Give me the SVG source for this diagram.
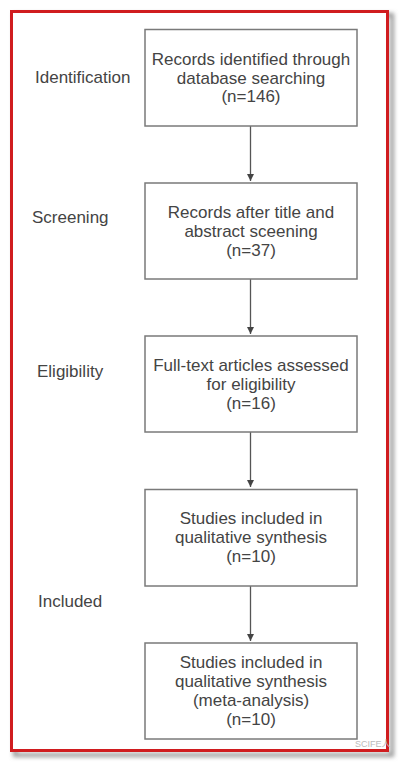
<svg xmlns="http://www.w3.org/2000/svg" width="402" height="763" viewBox="0 0 402 763">
<style>
.box{fill:#fff;stroke:#7a7a7a;stroke-width:1.5}
.t{font-family:"Liberation Sans",Arial,sans-serif;font-size:17px;fill:#444;text-anchor:middle}
.lab{font-family:"Liberation Sans",Arial,sans-serif;font-size:17px;fill:#444}
.arr{stroke:#555;stroke-width:1.3;fill:none;marker-end:url(#ah)}
</style>
<defs>
<marker id="ah" markerWidth="8" markerHeight="10" refX="7" refY="4" orient="auto" markerUnits="userSpaceOnUse">
<path d="M0,0.5 L7,4 L0,7.5 Z" fill="#444"/>
</marker>
<filter id="sh" x="-5%" y="-5%" width="115%" height="115%">
<feGaussianBlur stdDeviation="2"/>
</filter>
</defs>
<rect width="402" height="763" fill="#fff"/>
<g id="frame">
<rect x="15" y="15" width="377" height="740" fill="none" stroke="#999" stroke-width="4" filter="url(#sh)"/>
<rect x="11.5" y="11.5" width="376" height="739" fill="#fff" stroke="#d01c1f" stroke-width="3"/>
</g>
<g id="labels">
<text class="lab" x="35" y="83">Identification</text>
<text class="lab" x="32" y="223">Screening</text>
<text class="lab" x="37" y="377">Eligibility</text>
<text class="lab" x="38" y="607">Included</text>
</g>
<g id="connectors">
<line class="arr" x1="250.5" y1="126" x2="250.5" y2="181"/>
<line class="arr" x1="250.5" y1="279" x2="250.5" y2="334"/>
<line class="arr" x1="250.5" y1="432" x2="250.5" y2="487"/>
<line class="arr" x1="250.5" y1="586" x2="250.5" y2="641"/>
</g>
<g id="n1">
<rect class="box" x="145" y="29.5" width="212" height="96.5"/>
<text class="t" x="251" y="65">Records identified through</text>
<text class="t" x="251" y="83.5">database searching</text>
<text class="t" x="251" y="102">(n=146)</text>
</g>
<g id="n2">
<rect class="box" x="145" y="183" width="212" height="96"/>
<text class="t" x="251" y="218">Records after title and</text>
<text class="t" x="251" y="237">abstract sceening</text>
<text class="t" x="251" y="256">(n=37)</text>
</g>
<g id="n3">
<rect class="box" x="145" y="336" width="212" height="96"/>
<text class="t" x="251" y="371">Full-text articles assessed</text>
<text class="t" x="251" y="390">for eligibility</text>
<text class="t" x="251" y="409">(n=16)</text>
</g>
<g id="n4">
<rect class="box" x="145" y="489.5" width="212" height="96.5"/>
<text class="t" x="251" y="524">Studies included in</text>
<text class="t" x="251" y="543">qualitative synthesis</text>
<text class="t" x="251" y="562">(n=10)</text>
</g>
<g id="n5">
<rect class="box" x="145" y="643" width="212" height="96"/>
<text class="t" x="251" y="668">Studies included in</text>
<text class="t" x="251" y="687">qualitative synthesis</text>
<text class="t" x="251" y="706">(meta-analysis)</text>
<text class="t" x="251" y="725">(n=10)</text>
</g>
<text x="355" y="747" font-family="'Liberation Sans','Noto Sans CJK SC',sans-serif" font-size="9" fill="#bbb">SCIFE人</text>
</svg>
